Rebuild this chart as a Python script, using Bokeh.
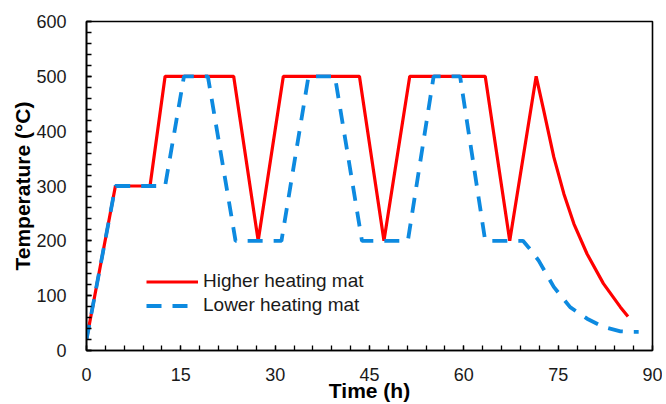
from bokeh.plotting import figure
from bokeh.models import FixedTicker, Legend, LegendItem, Range1d
from bokeh.embed import file_html
from bokeh.resources import INLINE

# ---- data ----
time_high = [0, 4.6, 10.1, 12.5, 23.4, 27.3, 31.3, 43.4, 47.3, 51.4, 63.4, 67.3,
             71.5, 72.7, 74.3, 75.9, 77.5, 79.6, 82.2, 84.9, 86.1]
temp_high = [20, 300, 300, 500, 500, 200, 500, 500, 200, 500, 500, 200,
             500, 438, 353, 286, 231, 176, 122, 79, 62]

time_low = [0, 4.6, 12.5, 15.5, 19.3, 23.7, 31.0, 35.3, 39.5, 43.8, 51.1, 55.2,
            59.4, 63.4, 69.4, 70.3, 71.9, 74.3, 76.9, 79.6, 82.2, 84.9, 86.5, 87.8]
temp_low = [20, 300, 300, 500, 500, 200, 200, 500, 500, 200, 200, 500,
            500, 200, 200, 188, 164, 116, 79, 58, 43, 35, 34, 34]

x_major = [0, 15, 30, 45, 60, 75, 90]
x_minor = list(range(0, 91, 3))
y_major = [0, 100, 200, 300, 400, 500, 600]
y_minor = list(range(0, 601, 20))

series_labels = ["Higher heating mat", "Lower heating mat"]

FONT = "Liberation Sans"
RED = "#FF0000"
BLUE = "#0D8AE0"

p = figure(width=662, height=404, output_backend="svg", toolbar_location=None,
           x_range=Range1d(0, 90), y_range=Range1d(0, 600),
           min_border_left=86, min_border_right=10, min_border_top=21,
           min_border_bottom=54)

p.xgrid.visible = False
p.ygrid.visible = False
p.outline_line_color = "black"
p.outline_line_width = 1.6
p.background_fill_color = "white"
p.border_fill_color = "white"

r1 = p.line(time_high, temp_high, line_color=RED, line_width=3.2)
r2 = p.line(time_low, temp_low, line_color=BLUE, line_width=3.8,
            line_dash="15 11")

for ax in (p.xaxis[0], p.yaxis[0]):
    ax.axis_line_color = "black"
    ax.axis_line_width = 1.6
    ax.major_tick_in = 5
    ax.major_tick_out = 0
    ax.minor_tick_in = 5
    ax.minor_tick_out = 0
    ax.major_tick_line_color = "black"
    ax.minor_tick_line_color = "black"
    ax.major_tick_line_width = 1.3
    ax.minor_tick_line_width = 1.3
    ax.major_label_text_font = FONT
    ax.major_label_text_font_size = "18px"
    ax.major_label_text_color = "#1a1a1a"
    ax.axis_label_text_font = FONT
    ax.axis_label_text_font_style = "bold"
    ax.axis_label_text_color = "black"

p.xaxis.ticker = FixedTicker(ticks=x_major, minor_ticks=x_minor)
p.yaxis.ticker = FixedTicker(ticks=y_major, minor_ticks=y_minor)

p.xaxis.axis_label = "Time (h)"
p.yaxis.axis_label = "Temperature (°C)"
p.xaxis.axis_label_text_font_size = "21px"
p.yaxis.axis_label_text_font_size = "21px"
p.xaxis.major_label_standoff = 17
p.yaxis.major_label_standoff = 20
p.xaxis.axis_label_standoff = -5
p.yaxis.axis_label_standoff = -1

legend = Legend(items=[LegendItem(label=series_labels[0], renderers=[r1]),
                       LegendItem(label=series_labels[1], renderers=[r2])],
                location=(60, 34), orientation="vertical")
legend.border_line_color = None
legend.background_fill_alpha = 0
legend.padding = 0
legend.margin = 0
legend.spacing = 2
legend.glyph_width = 52
legend.glyph_height = 21
legend.label_standoff = 5
legend.label_text_font = FONT
legend.label_text_font_size = "19px"
legend.label_text_color = "#1a1a1a"
p.add_layout(legend, "center")

open("out.html", "w").write(file_html(p, INLINE))
